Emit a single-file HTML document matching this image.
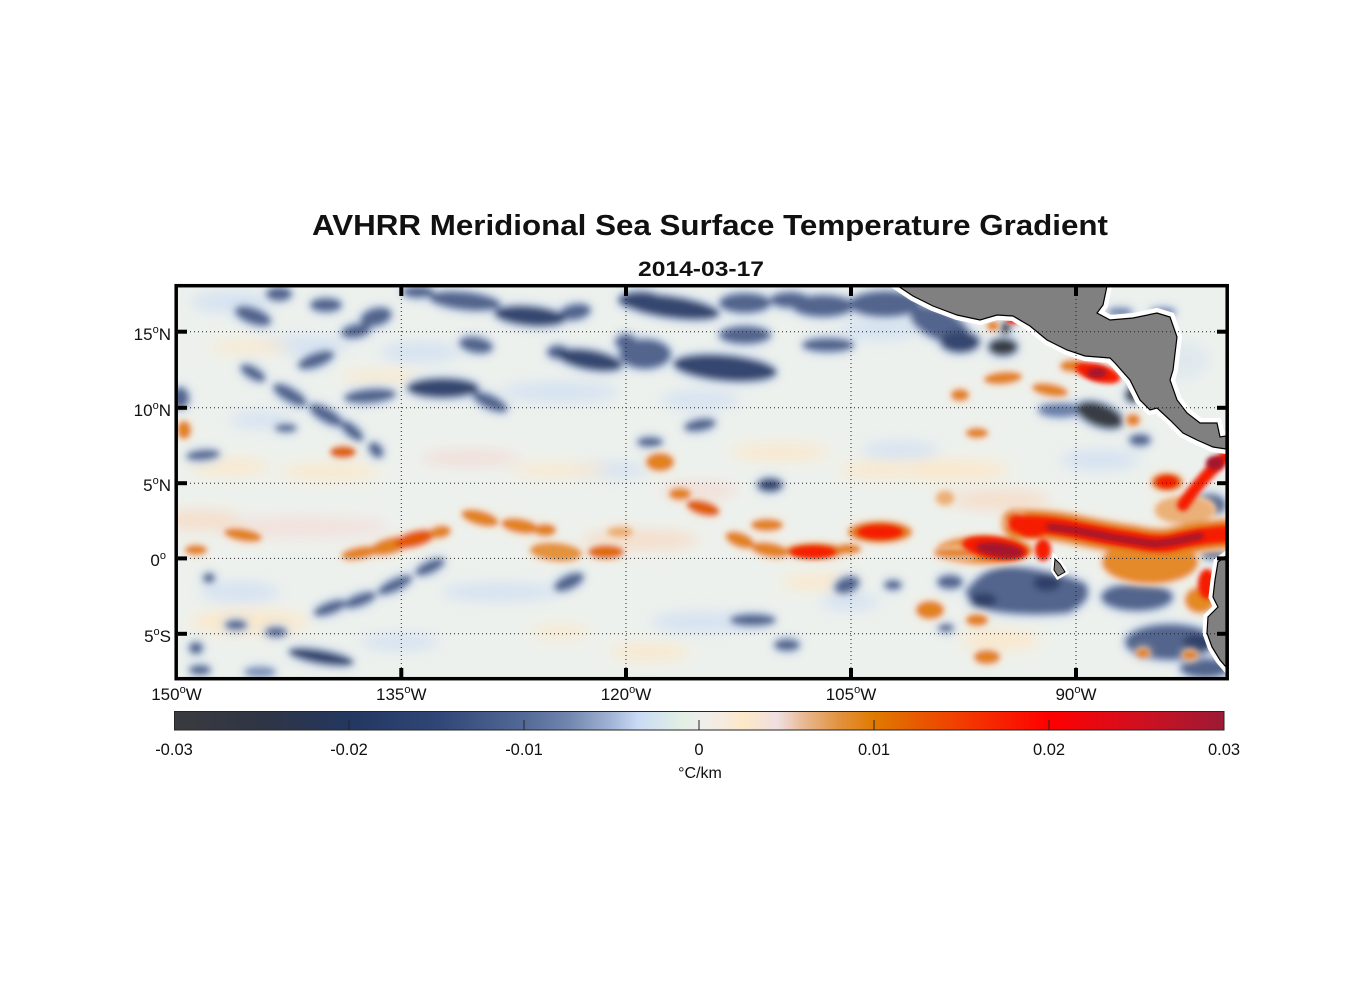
<!DOCTYPE html>
<html><head><meta charset="utf-8"><style>
html,body{margin:0;padding:0;background:#fff;}
svg{display:block;}
text{font-family:"Liberation Sans",Arial,sans-serif;fill:#111;}
</style></head><body>
<svg width="1356" height="1000" viewBox="0 0 1356 1000" xmlns="http://www.w3.org/2000/svg">
<defs>
<clipPath id="mc"><rect x="178" y="287" width="1048" height="390"/></clipPath>
<filter id="b8" x="-50%" y="-50%" width="200%" height="200%"><feGaussianBlur stdDeviation="7"/></filter>
<filter id="b3" x="-50%" y="-50%" width="200%" height="200%"><feGaussianBlur stdDeviation="3.2"/></filter>
<filter id="b2" x="-50%" y="-50%" width="200%" height="200%"><feGaussianBlur stdDeviation="2.4"/></filter>
<filter id="nv" x="-50%" y="-50%" width="200%" height="200%">
 <feGaussianBlur in="SourceAlpha" stdDeviation="6" result="a"/>
 <feComponentTransfer in="a" result="a2"><feFuncA type="linear" slope="1.5"/></feComponentTransfer>
 <feFlood flood-color="#c2d3ee" result="f"/>
 <feComposite in="f" in2="a2" operator="in" result="halo"/>
 <feGaussianBlur in="SourceGraphic" stdDeviation="3.4" result="core"/>
 <feMerge><feMergeNode in="halo"/><feMergeNode in="core"/></feMerge>
</filter>
<filter id="og" x="-50%" y="-50%" width="200%" height="200%">
 <feGaussianBlur in="SourceAlpha" stdDeviation="5" result="a"/>
 <feComponentTransfer in="a" result="a2"><feFuncA type="linear" slope="1.4"/></feComponentTransfer>
 <feFlood flood-color="#f7dcc2" result="f"/>
 <feComposite in="f" in2="a2" operator="in" result="halo"/>
 <feGaussianBlur in="SourceGraphic" stdDeviation="2.6" result="core"/>
 <feMerge><feMergeNode in="halo"/><feMergeNode in="core"/></feMerge>
</filter>
<linearGradient id="cb" x1="0" y1="0" x2="1" y2="0">
<stop offset="0" stop-color="#3a3b3f"/>
<stop offset="0.0833" stop-color="#2f3545"/>
<stop offset="0.1667" stop-color="#233760"/>
<stop offset="0.25" stop-color="#2f4676"/>
<stop offset="0.3333" stop-color="#536a97"/>
<stop offset="0.375" stop-color="#7186ae"/>
<stop offset="0.4167" stop-color="#a3b5d6"/>
<stop offset="0.4417" stop-color="#c9dbf5"/>
<stop offset="0.4667" stop-color="#d8e7ea"/>
<stop offset="0.4833" stop-color="#e3efe4"/>
<stop offset="0.5" stop-color="#eeeeec"/>
<stop offset="0.525" stop-color="#f7ebdd"/>
<stop offset="0.5417" stop-color="#fde8c8"/>
<stop offset="0.575" stop-color="#efdfe0"/>
<stop offset="0.6" stop-color="#e8b891"/>
<stop offset="0.6333" stop-color="#e2923e"/>
<stop offset="0.6667" stop-color="#e07a00"/>
<stop offset="0.7083" stop-color="#e85a00"/>
<stop offset="0.75" stop-color="#f23c00"/>
<stop offset="0.8333" stop-color="#ff0000"/>
<stop offset="0.9167" stop-color="#d20f1f"/>
<stop offset="1" stop-color="#9c1a35"/>
</linearGradient>
</defs>

<!-- Titles -->
<text x="710" y="235" font-size="28.5" font-weight="bold" text-anchor="middle" textLength="796" lengthAdjust="spacingAndGlyphs">AVHRR Meridional Sea Surface Temperature Gradient</text>
<text x="701" y="276" font-size="21.5" font-weight="bold" text-anchor="middle" textLength="126" lengthAdjust="spacingAndGlyphs">2014-03-17</text>

<!-- Map -->
<g clip-path="url(#mc)">
<rect x="170" y="280" width="1070" height="410" fill="#edf1ed"/>
<!-- faint background -->
<g filter="url(#b8)" opacity="0.9">
<ellipse cx="230" cy="302" rx="40" ry="10" fill="#d2e0f3"/>
<ellipse cx="300" cy="345" rx="50" ry="9" fill="#d2e0f3"/>
<ellipse cx="420" cy="352" rx="40" ry="10" fill="#d2e0f3"/>
<ellipse cx="560" cy="392" rx="60" ry="10" fill="#d2e0f3"/>
<ellipse cx="700" cy="400" rx="40" ry="9" fill="#d2e0f3"/>
<ellipse cx="260" cy="420" rx="30" ry="8" fill="#d2e0f3"/>
<ellipse cx="600" cy="470" rx="50" ry="8" fill="#d2e0f3"/>
<ellipse cx="240" cy="592" rx="40" ry="10" fill="#d2e0f3"/>
<ellipse cx="500" cy="592" rx="60" ry="9" fill="#d2e0f3"/>
<ellipse cx="700" cy="622" rx="50" ry="10" fill="#d2e0f3"/>
<ellipse cx="850" cy="602" rx="30" ry="8" fill="#d2e0f3"/>
<ellipse cx="400" cy="642" rx="40" ry="8" fill="#d2e0f3"/>
<ellipse cx="900" cy="450" rx="40" ry="8" fill="#d2e0f3"/>
<ellipse cx="1100" cy="460" rx="40" ry="10" fill="#d2e0f3"/>
<ellipse cx="880" cy="330" rx="40" ry="10" fill="#d2e0f3"/>
<ellipse cx="1180" cy="360" rx="30" ry="20" fill="#dfe8ef"/>
<ellipse cx="250" cy="347" rx="40" ry="6" fill="#fce7c8"/>
<ellipse cx="380" cy="377" rx="40" ry="6" fill="#fce7c8"/>
<ellipse cx="230" cy="467" rx="40" ry="8" fill="#fce7c8"/>
<ellipse cx="330" cy="472" rx="50" ry="8" fill="#fce7c8"/>
<ellipse cx="470" cy="458" rx="50" ry="8" fill="#f3dcd6"/>
<ellipse cx="560" cy="470" rx="50" ry="6" fill="#fce7c8"/>
<ellipse cx="300" cy="527" rx="90" ry="11" fill="#f3e0dc"/>
<ellipse cx="250" cy="622" rx="60" ry="12" fill="#fce7c8"/>
<ellipse cx="560" cy="632" rx="30" ry="6" fill="#fce7c8"/>
<ellipse cx="780" cy="452" rx="50" ry="8" fill="#fce7c8"/>
<ellipse cx="700" cy="490" rx="40" ry="8" fill="#f3dcd6"/>
<ellipse cx="880" cy="470" rx="40" ry="8" fill="#fce7c8"/>
<ellipse cx="820" cy="582" rx="40" ry="8" fill="#fce7c8"/>
<ellipse cx="650" cy="652" rx="40" ry="8" fill="#fce7c8"/>
<ellipse cx="950" cy="470" rx="60" ry="10" fill="#fce7c8"/>
<ellipse cx="1000" cy="500" rx="50" ry="10" fill="#f6dcc8"/>
<ellipse cx="640" cy="540" rx="60" ry="10" fill="#f6dcc8"/>
<ellipse cx="200" cy="520" rx="40" ry="10" fill="#f6dcc8"/>
<ellipse cx="1000" cy="640" rx="40" ry="10" fill="#fce7c8"/>
</g>

<!-- navy features -->
<g filter="url(#nv)" fill="#52658d">
<ellipse cx="253" cy="316" rx="19" ry="8" transform="rotate(20 253 316)"/>
<ellipse cx="279" cy="294" rx="13" ry="7"/>
<ellipse cx="326" cy="305" rx="16" ry="7"/>
<ellipse cx="376" cy="317" rx="16" ry="9" transform="rotate(-15 376 317)"/>
<ellipse cx="356" cy="331" rx="15" ry="7" transform="rotate(-10 356 331)"/>
<ellipse cx="418" cy="292" rx="16" ry="6"/>
<ellipse cx="465" cy="301" rx="36" ry="9" transform="rotate(6 465 301)"/>
<ellipse cx="575" cy="312" rx="16" ry="8" transform="rotate(-10 575 312)"/>
<ellipse cx="476" cy="345" rx="17" ry="8" transform="rotate(10 476 345)"/>
<ellipse cx="558" cy="352" rx="11" ry="7"/>
<ellipse cx="626" cy="342" rx="11" ry="8"/>
<ellipse cx="253" cy="373" rx="14" ry="6" transform="rotate(30 253 373)"/>
<ellipse cx="290" cy="395" rx="19" ry="7" transform="rotate(30 290 395)"/>
<ellipse cx="326" cy="415" rx="19" ry="7" transform="rotate(30 326 415)"/>
<ellipse cx="352" cy="431" rx="14" ry="6" transform="rotate(40 352 431)"/>
<ellipse cx="376" cy="450" rx="9" ry="6" transform="rotate(50 376 450)"/>
<ellipse cx="370" cy="396" rx="26" ry="7" transform="rotate(-5 370 396)"/>
<ellipse cx="490" cy="402" rx="19" ry="7" transform="rotate(25 490 402)"/>
<ellipse cx="316" cy="360" rx="19" ry="7" transform="rotate(-20 316 360)"/>
<ellipse cx="180" cy="398" rx="9" ry="11"/>
<ellipse cx="203" cy="455" rx="17" ry="5" transform="rotate(-5 203 455)"/>
<ellipse cx="286" cy="428" rx="11" ry="4"/>
<ellipse cx="640" cy="300" rx="22" ry="9"/>
<ellipse cx="745" cy="303" rx="26" ry="10"/>
<ellipse cx="790" cy="300" rx="20" ry="8"/>
<ellipse cx="823" cy="306" rx="31" ry="11"/>
<ellipse cx="885" cy="304" rx="36" ry="13"/>
<ellipse cx="940" cy="325" rx="32" ry="15" transform="rotate(25 940 325)"/>
<ellipse cx="645" cy="354" rx="26" ry="15"/>
<ellipse cx="745" cy="335" rx="26" ry="9"/>
<ellipse cx="828" cy="345" rx="26" ry="7"/>
<ellipse cx="700" cy="425" rx="16" ry="6" transform="rotate(-10 700 425)"/>
<ellipse cx="650" cy="442" rx="13" ry="5"/>
<ellipse cx="1060" cy="410" rx="22" ry="7" fill="#6a7ea6"/>
<ellipse cx="1120" cy="312" rx="13" ry="4" fill="#6a7ea6"/>
<ellipse cx="1163" cy="312" rx="13" ry="4" fill="#6a7ea6"/>
<ellipse cx="1140" cy="440" rx="11" ry="6"/>
<ellipse cx="1210" cy="505" rx="16" ry="11"/>
<ellipse cx="1212" cy="553" rx="13" ry="6"/>
<ellipse cx="330" cy="608" rx="17" ry="6" transform="rotate(-20 330 608)"/>
<ellipse cx="360" cy="600" rx="17" ry="6" transform="rotate(-20 360 600)"/>
<ellipse cx="395" cy="585" rx="19" ry="6" transform="rotate(-25 395 585)"/>
<ellipse cx="430" cy="567" rx="16" ry="6" transform="rotate(-25 430 567)"/>
<ellipse cx="569" cy="582" rx="16" ry="7" transform="rotate(-25 569 582)"/>
<ellipse cx="236" cy="625" rx="11" ry="5"/>
<ellipse cx="276" cy="632" rx="11" ry="5"/>
<ellipse cx="196" cy="648" rx="7" ry="6"/>
<ellipse cx="209" cy="578" rx="6" ry="5"/>
<ellipse cx="200" cy="670" rx="11" ry="5"/>
<ellipse cx="260" cy="672" rx="16" ry="5" fill="#7d90b5"/>
<ellipse cx="753" cy="620" rx="23" ry="6"/>
<ellipse cx="787" cy="645" rx="13" ry="6"/>
<ellipse cx="847" cy="585" rx="13" ry="8" transform="rotate(-20 847 585)"/>
<ellipse cx="893" cy="585" rx="9" ry="5"/>
<ellipse cx="950" cy="582" rx="13" ry="7"/>
<ellipse cx="946" cy="628" rx="8" ry="4"/>
<ellipse cx="770" cy="485" rx="13" ry="7" fill="#33466f"/>
<path d="M965 592 Q985 564 1012 566 Q1052 570 1085 583 Q1096 600 1068 613 Q1020 618 975 608 Z"/>
<ellipse cx="1137" cy="597" rx="36" ry="14"/>
<ellipse cx="1170" cy="642" rx="45" ry="18"/>
<ellipse cx="1205" cy="668" rx="25" ry="10"/>
<ellipse cx="530" cy="316" rx="36" ry="10" transform="rotate(5 530 316)" fill="#34476f"/>
<ellipse cx="590" cy="360" rx="33" ry="10" transform="rotate(10 590 360)" fill="#34476f"/>
<ellipse cx="443" cy="388" rx="36" ry="10" fill="#34476f"/>
<ellipse cx="670" cy="307" rx="50" ry="11" transform="rotate(8 670 307)" fill="#34476f"/>
<ellipse cx="725" cy="368" rx="52" ry="13" transform="rotate(5 725 368)" fill="#34476f"/>
<ellipse cx="321" cy="657" rx="33" ry="7" transform="rotate(10 321 657)" fill="#34476f"/>
<ellipse cx="960" cy="342" rx="20" ry="11" fill="#34476f"/>
<ellipse cx="983" cy="600" rx="14" ry="7" fill="#2f4068"/>
<ellipse cx="1047" cy="583" rx="14" ry="8" fill="#2f4068"/>
<ellipse cx="1197" cy="643" rx="14" ry="9" fill="#2f4068"/>
<ellipse cx="1137" cy="387" rx="7" ry="8" fill="#2f4068"/>
<ellipse cx="1003" cy="347" rx="15" ry="9" fill="#393c44"/>
<ellipse cx="1005" cy="328" rx="6" ry="6" fill="#393c44"/>
<ellipse cx="1100" cy="415" rx="25" ry="12" transform="rotate(20 1100 415)" fill="#393c44"/>
<ellipse cx="1133" cy="395" rx="8" ry="8" fill="#393c44"/>
</g>

<!-- orange features -->
<g filter="url(#og)">
<ellipse cx="985" cy="550" rx="48" ry="14" fill="#e48a24"/>
<ellipse cx="1150" cy="562" rx="48" ry="22" fill="#e58a2a"/>
<ellipse cx="1185" cy="510" rx="30" ry="14" fill="#eab078"/>
<path d="M1017 524 Q1050 524 1077 530 Q1110 537 1133 540 Q1155 545 1170 543 Q1195 536 1226 534" stroke="#e48a24" stroke-width="30" fill="none" stroke-linecap="round"/>
<ellipse cx="1200" cy="600" rx="15" ry="13" fill="#e48a24"/>
</g>
<g filter="url(#og)" fill="#e2821a">
<ellipse cx="343" cy="452" rx="13" ry="6" fill="#dd6400"/>
<ellipse cx="184" cy="430" rx="7" ry="9"/>
<ellipse cx="243" cy="535" rx="19" ry="6" transform="rotate(10 243 535)"/>
<ellipse cx="196" cy="550" rx="11" ry="5"/>
<ellipse cx="360" cy="553" rx="19" ry="6" transform="rotate(-10 360 553)"/>
<ellipse cx="390" cy="546" rx="21" ry="8" transform="rotate(-15 390 546)"/>
<ellipse cx="415" cy="539" rx="21" ry="8" transform="rotate(-15 415 539)" fill="#e35800"/>
<ellipse cx="440" cy="532" rx="11" ry="6" transform="rotate(-10 440 532)"/>
<ellipse cx="480" cy="518" rx="19" ry="7" transform="rotate(15 480 518)"/>
<ellipse cx="520" cy="526" rx="19" ry="7" transform="rotate(10 520 526)"/>
<ellipse cx="545" cy="530" rx="11" ry="6"/>
<ellipse cx="556" cy="552" rx="26" ry="9" transform="rotate(5 556 552)" fill="#e3933a"/>
<ellipse cx="606" cy="552" rx="18" ry="7" fill="#e06a00"/>
<ellipse cx="620" cy="532" rx="13" ry="5" fill="#eab078"/>
<ellipse cx="660" cy="462" rx="14" ry="9"/>
<ellipse cx="703" cy="508" rx="17" ry="7" transform="rotate(15 703 508)" fill="#e05e00"/>
<ellipse cx="680" cy="494" rx="11" ry="6"/>
<ellipse cx="767" cy="525" rx="16" ry="6"/>
<ellipse cx="740" cy="540" rx="15" ry="7" transform="rotate(20 740 540)"/>
<ellipse cx="770" cy="550" rx="19" ry="7" transform="rotate(10 770 550)"/>
<ellipse cx="815" cy="551" rx="31" ry="8"/>
<ellipse cx="848" cy="549" rx="13" ry="5"/>
<ellipse cx="880" cy="532" rx="32" ry="11"/>
<ellipse cx="945" cy="498" rx="9" ry="7" fill="#eab078"/>
<ellipse cx="1013" cy="518" rx="9" ry="7"/>
<ellipse cx="960" cy="395" rx="9" ry="6"/>
<ellipse cx="1003" cy="378" rx="19" ry="6" transform="rotate(-5 1003 378)"/>
<ellipse cx="1050" cy="390" rx="18" ry="6" transform="rotate(10 1050 390)"/>
<ellipse cx="1073" cy="366" rx="13" ry="6"/>
<ellipse cx="977" cy="433" rx="11" ry="5"/>
<ellipse cx="993" cy="326" rx="6" ry="5"/>
<ellipse cx="930" cy="610" rx="14" ry="9"/>
<ellipse cx="977" cy="620" rx="11" ry="6"/>
<ellipse cx="987" cy="657" rx="13" ry="7"/>
<ellipse cx="1143" cy="653" rx="7" ry="5"/>
<ellipse cx="1190" cy="655" rx="8" ry="5"/>
<ellipse cx="1167" cy="482" rx="16" ry="9"/>
<ellipse cx="955" cy="553" rx="21" ry="5"/>
<ellipse cx="1133" cy="420" rx="7" ry="6"/>
</g>
<!-- red features -->
<g filter="url(#b2)" fill="#f51a00">
<ellipse cx="813" cy="552" rx="23" ry="6"/>
<ellipse cx="880" cy="532" rx="23" ry="7"/>
<ellipse cx="1098" cy="373" rx="23" ry="9" transform="rotate(15 1098 373)"/>
<ellipse cx="1013" cy="320" rx="7" ry="4"/>
<ellipse cx="995" cy="548" rx="33" ry="11" transform="rotate(8 995 548)"/>
<path d="M1017 524 Q1050 524 1077 530 Q1110 537 1133 540 Q1155 545 1170 543 Q1195 536 1226 534" stroke="#f51a00" stroke-width="17" fill="none" stroke-linecap="round"/>
<path d="M1226 456 Q1200 480 1183 505" stroke="#f51a00" stroke-width="12" fill="none" stroke-linecap="round"/>
<ellipse cx="1043" cy="550" rx="8" ry="11"/>
<ellipse cx="1032" cy="528" rx="17" ry="9"/>
<ellipse cx="1167" cy="482" rx="11" ry="6"/>
<ellipse cx="1207" cy="584" rx="9" ry="15"/>
</g>
<g filter="url(#b2)" fill="#a3152f">
<ellipse cx="1000" cy="550" rx="24" ry="7" transform="rotate(8 1000 550)"/>
<ellipse cx="1097" cy="373" rx="10" ry="5"/>
<path d="M1050 527 Q1077 530 1110 537 Q1133 541 1155 544 Q1175 542 1200 536" stroke="#a3152f" stroke-width="7" fill="none" stroke-linecap="round"/>
<ellipse cx="1215" cy="463" rx="9" ry="7"/>
</g>

<!-- land -->
<g>
<polygon points="898,286 913,296 933,306 957,315 980,320 997,315 1013,316 1030,326 1047,340 1067,350 1085,356 1110,358 1115,363 1130,380 1140,400 1150,410 1157,408 1170,420 1183,433 1197,440 1213,447 1226,449 1226,436 1220,437 1217,423 1200,423 1187,413 1177,400 1170,380 1173,370 1177,337 1170,317 1157,313 1133,318 1110,320 1097,313 1103,305 1107,286" fill="#fff" stroke="#fff" stroke-width="10" stroke-linejoin="miter"/>
<polygon points="1226,556 1218,562 1215,580 1213,597 1218,607 1208,617 1207,633 1212,647 1220,660 1226,667" fill="#fff" stroke="#fff" stroke-width="9"/>
<polygon points="1055,559 1060,564 1065,572 1058,576 1054,570" fill="#fff" stroke="#fff" stroke-width="6"/>
<polygon points="898,286 913,296 933,306 957,315 980,320 997,315 1013,316 1030,326 1047,340 1067,350 1085,356 1110,358 1115,363 1130,380 1140,400 1150,410 1157,408 1170,420 1183,433 1197,440 1213,447 1226,449 1226,436 1220,437 1217,423 1200,423 1187,413 1177,400 1170,380 1173,370 1177,337 1170,317 1157,313 1133,318 1110,320 1097,313 1103,305 1107,286" fill="#808080" stroke="#000" stroke-width="1.2"/>
<polygon points="1226,556 1218,562 1215,580 1213,597 1218,607 1208,617 1207,633 1212,647 1220,660 1226,667" fill="#808080" stroke="#000" stroke-width="1.2"/>
<polygon points="1055,559 1060,564 1065,572 1058,576 1054,570" fill="#808080" stroke="#000" stroke-width="1"/>
</g>

<!-- grid -->
<g stroke="#222" stroke-width="1" stroke-dasharray="1 3" fill="none">
<line x1="178" y1="331.7" x2="1226" y2="331.7"/>
<line x1="178" y1="407.8" x2="1226" y2="407.8"/>
<line x1="178" y1="483.2" x2="1226" y2="483.2"/>
<line x1="178" y1="558.4" x2="1226" y2="558.4"/>
<line x1="178" y1="633.8" x2="1226" y2="633.8"/>
<line x1="401.3" y1="287" x2="401.3" y2="677"/>
<line x1="626" y1="287" x2="626" y2="677"/>
<line x1="851" y1="287" x2="851" y2="677"/>
<line x1="1076" y1="287" x2="1076" y2="677"/>
</g>
</g>

<!-- frame -->
<rect x="176.2" y="285.7" width="1051" height="393" fill="none" stroke="#000" stroke-width="3.5"/>
<!-- ticks -->
<g fill="#000">
<rect x="178" y="329.7" width="9" height="4"/>
<rect x="178" y="405.8" width="9" height="4"/>
<rect x="178" y="481.2" width="9" height="4"/>
<rect x="178" y="556.4" width="9" height="4"/>
<rect x="178" y="631.8" width="9" height="4"/>
<rect x="1217" y="329.7" width="9" height="4"/>
<rect x="1217" y="405.8" width="9" height="4"/>
<rect x="1217" y="481.2" width="9" height="4"/>
<rect x="1217" y="556.4" width="9" height="4"/>
<rect x="1217" y="631.8" width="9" height="4"/>
<rect x="399.3" y="287" width="4" height="9"/>
<rect x="624" y="287" width="4" height="9"/>
<rect x="849" y="287" width="4" height="9"/>
<rect x="1074" y="287" width="4" height="9"/>
<rect x="399.3" y="668" width="4" height="9"/>
<rect x="624" y="668" width="4" height="9"/>
<rect x="849" y="668" width="4" height="9"/>
<rect x="1074" y="668" width="4" height="9"/>
</g>

<!-- y labels -->
<g font-size="17" text-anchor="end">
<text x="171" y="340">15<tspan font-size="11" dy="-7">o</tspan><tspan dy="7">N</tspan></text>
<text x="171" y="416">10<tspan font-size="11" dy="-7">o</tspan><tspan dy="7">N</tspan></text>
<text x="171" y="491">5<tspan font-size="11" dy="-7">o</tspan><tspan dy="7">N</tspan></text>
<text x="166" y="566">0<tspan font-size="11" dy="-7">o</tspan></text>
<text x="171" y="642">5<tspan font-size="11" dy="-7">o</tspan><tspan dy="7">S</tspan></text>
</g>
<!-- x labels -->
<g font-size="17" text-anchor="middle">
<text x="176.5" y="700">150<tspan font-size="11" dy="-7">o</tspan><tspan dy="7">W</tspan></text>
<text x="401.3" y="700">135<tspan font-size="11" dy="-7">o</tspan><tspan dy="7">W</tspan></text>
<text x="626" y="700">120<tspan font-size="11" dy="-7">o</tspan><tspan dy="7">W</tspan></text>
<text x="851" y="700">105<tspan font-size="11" dy="-7">o</tspan><tspan dy="7">W</tspan></text>
<text x="1076" y="700">90<tspan font-size="11" dy="-7">o</tspan><tspan dy="7">W</tspan></text>
</g>

<!-- colorbar -->
<rect x="174.5" y="711.5" width="1049.5" height="18.5" fill="url(#cb)" stroke="#262626" stroke-width="1"/>
<g stroke="#262626" stroke-width="1">
<line x1="349" y1="730" x2="349" y2="720"/>
<line x1="524" y1="730" x2="524" y2="720"/>
<line x1="699" y1="730" x2="699" y2="720"/>
<line x1="874" y1="730" x2="874" y2="720"/>
<line x1="1049" y1="730" x2="1049" y2="720"/>
</g>
<g font-size="16.5" text-anchor="middle" fill="#262626">
<text x="174" y="755">-0.03</text>
<text x="349" y="755">-0.02</text>
<text x="524" y="755">-0.01</text>
<text x="699" y="755">0</text>
<text x="874" y="755">0.01</text>
<text x="1049" y="755">0.02</text>
<text x="1224" y="755">0.03</text>
<text x="700" y="778" font-size="16">°C/km</text>
</g>
</svg>
</body></html>
